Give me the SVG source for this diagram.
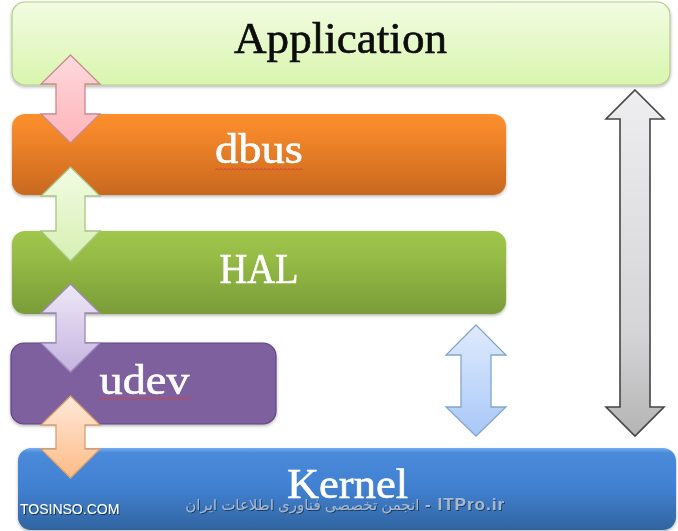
<svg xmlns="http://www.w3.org/2000/svg" width="678" height="531" viewBox="0 0 678 531">
<style>
.lbl{font-family:"Liberation Serif","DejaVu Serif",serif;text-anchor:middle;stroke-width:.6}
.w{fill:#fff;stroke:#fff}
.box{filter:url(#sh)}
.arr{stroke-width:1.3;stroke-linejoin:miter}
</style>
<defs>
<filter id="sh" x="-3%" y="-10%" width="106%" height="125%"><feDropShadow dx="0" dy="1.5" stdDeviation="1.5" flood-color="#000" flood-opacity=".3"/></filter>
<filter id="ts" x="-5%" y="-20%" width="110%" height="140%"><feDropShadow dx="1" dy="1" stdDeviation=".6" flood-color="#000" flood-opacity=".55"/></filter>
<linearGradient id="gApp" x1="0" y1="0" x2="0" y2="1"><stop offset="0" stop-color="#f2fce2"/><stop offset="1" stop-color="#d9f5ae"/></linearGradient>
<linearGradient id="gDbus" x1="0" y1="0" x2="0" y2="1"><stop offset="0" stop-color="#fd902c"/><stop offset=".25" stop-color="#f3862a"/><stop offset="1" stop-color="#c8681f"/></linearGradient>
<linearGradient id="gHal" x1="0" y1="0" x2="0" y2="1"><stop offset="0" stop-color="#a0c64c"/><stop offset=".3" stop-color="#97bc46"/><stop offset="1" stop-color="#7a9c38"/></linearGradient>
<linearGradient id="gKer" x1="0" y1="0" x2="0" y2="1"><stop offset="0" stop-color="#74aef0"/><stop offset=".06" stop-color="#4a8ada"/><stop offset=".5" stop-color="#4180d0"/><stop offset="1" stop-color="#30649f"/></linearGradient>
<linearGradient id="aPink" x1="0" y1="0" x2="0" y2="1"><stop offset="0" stop-color="#fcdade"/><stop offset="1" stop-color="#ffb3b8"/></linearGradient>
<linearGradient id="aGreen" x1="0" y1="0" x2="0" y2="1"><stop offset="0" stop-color="#f2fbe3"/><stop offset="1" stop-color="#d6f0b2"/></linearGradient>
<linearGradient id="aPurp" x1="0" y1="0" x2="0" y2="1"><stop offset="0" stop-color="#eee8f6"/><stop offset="1" stop-color="#c4b3e0"/></linearGradient>
<linearGradient id="aOran" x1="0" y1="0" x2="0" y2="1"><stop offset="0" stop-color="#ffe9da"/><stop offset="1" stop-color="#fdbb86"/></linearGradient>
<linearGradient id="aBlue" x1="0" y1="0" x2="0" y2="1"><stop offset="0" stop-color="#dfebfd"/><stop offset="1" stop-color="#a8c8f8"/></linearGradient>
<linearGradient id="aGray" x1="0" y1="0" x2="0" y2="1"><stop offset="0" stop-color="#eeeef1"/><stop offset=".7" stop-color="#d5d5d8"/><stop offset="1" stop-color="#b4b4b4"/></linearGradient>
<pattern id="squig" width="4" height="3" patternUnits="userSpaceOnUse"><path d="M0 2.500L2 .5 4 2.500" fill="none" stroke="#d8403c" stroke-width="1"/></pattern>
</defs>

<g id="node-application" class="box">
<rect x="12" y="2" width="658" height="83" rx="13" fill="url(#gApp)" stroke="#b3cc8c" stroke-width="1.2"/>
<text class="lbl" x="340.500" y="53" font-size="44" textLength="213" lengthAdjust="spacingAndGlyphs" fill="#0a0a0a" stroke="#0a0a0a">Application</text>
</g>
<g id="node-dbus" class="box">
<rect x="12" y="114" width="494" height="81" rx="13" fill="url(#gDbus)"/>
<text class="lbl w" x="259" y="163" font-size="42" textLength="88" lengthAdjust="spacingAndGlyphs">dbus</text>
<rect x="0" y="0" width="88" height="3" fill="url(#squig)" transform="translate(215 168)"/>
</g>
<g id="node-hal" class="box">
<rect x="12" y="231" width="494" height="83" rx="13" fill="url(#gHal)"/>
<text class="lbl w" x="259" y="283" font-size="42" textLength="79" lengthAdjust="spacingAndGlyphs">HAL</text>
</g>
<g id="node-udev" class="box">
<rect x="11" y="343" width="265" height="81" rx="13" fill="#7f609f" stroke="#5d4580" stroke-width="1.2"/>
<text class="lbl w" x="144.500" y="394" font-size="42" textLength="90" lengthAdjust="spacingAndGlyphs">udev</text>
<rect x="0" y="0" width="92" height="3" fill="url(#squig)" transform="translate(99 397)"/>
</g>
<g id="node-kernel" class="box">
<rect x="18" y="448" width="658" height="82" rx="13" fill="url(#gKer)"/>
<text class="lbl w" x="347.500" y="498" font-size="42" textLength="121" lengthAdjust="spacingAndGlyphs">Kernel</text>
</g>

<g id="connectors" class="arr">
<polygon fill="url(#aPink)" stroke="#c98a8c" points="70.500,55 100,84 85,84 85,114 100,114 70.500,143 41,114 56,114 56,84 41,84"/>
<polygon fill="url(#aGreen)" stroke="#a9c48a" points="70.500,167 100,196 85,196 85,231 100,231 70.500,261 41,231 56,231 56,196 41,196"/>
<polygon fill="url(#aPurp)" stroke="#9c8bb8" points="70.500,284 100,313 85,313 85,343 100,343 70.500,372 41,343 56,343 56,313 41,313"/>
<polygon fill="url(#aOran)" stroke="#d5a070" points="70.500,396 100,425 85,425 85,449 100,449 70.500,478 41,449 56,449 56,425 41,425"/>
<polygon fill="url(#aBlue)" stroke="#85a5cf" points="476,325 506,355 491,355 491,407 506,407 476,436 446,407 461,407 461,355 446,355"/>
<polygon fill="url(#aGray)" stroke="#454545" stroke-width="1.6" points="635,90 664,119 650,119 650,407 664,407 635,436 606,407 620,407 620,119 606,119"/>
</g>

<g id="watermark">
<text x="505" y="510" direction="rtl" font-family="Liberation Sans, DejaVu Sans, sans-serif" font-size="17" font-weight="bold" fill="#b9c4d2" fill-opacity=".85" filter="url(#ts)" letter-spacing="1">ITPro.ir - <tspan font-size="15" font-weight="normal" letter-spacing="2.600">انجمن تخصصی فناوری اطلاعات ایران</tspan></text>
<text x="20" y="514" font-family="Liberation Sans, Arial, sans-serif" font-size="14" fill="#fff" filter="url(#ts)">TOSINSO.COM</text>
</g>
</svg>
